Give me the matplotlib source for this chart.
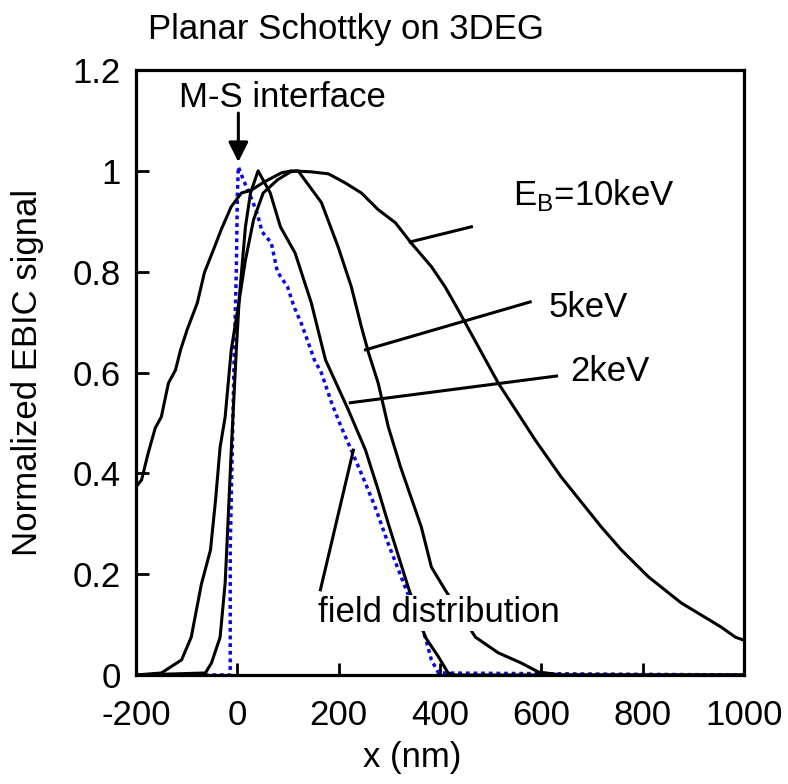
import numpy as np
import matplotlib.pyplot as plt

plt.rcParams['font.family'] = ['Liberation Sans', 'DejaVu Sans']
plt.rcParams['axes.unicode_minus'] = False

# EBIC profiles (x in nm, normalized signal)
x10 = [-200, -189, -176, -162, -150, -136, -122, -112, -99, -79, -65, -45, -32, -12, 8,
       28, 53, 87, 107, 146, 180, 213, 245, 278, 312, 343, 383, 410, 436, 515, 588, 639,
       718, 758, 811, 876, 955, 983, 1000]
y10 = [0.373, 0.387, 0.44, 0.49, 0.512, 0.579, 0.605, 0.645, 0.685, 0.738, 0.798, 0.849,
       0.883, 0.929, 0.956, 0.962, 0.978, 0.996, 1.0, 0.998, 0.994, 0.976, 0.956, 0.923,
       0.897, 0.857, 0.81, 0.77, 0.724, 0.579, 0.466, 0.393, 0.294, 0.248, 0.195, 0.143,
       0.095, 0.075, 0.069]

x5 = [-200, -150, -110, -91, -71, -53, -43, -34, -24, -18, -12, 6, 16, 32, 51, 79, 105,
      120, 166, 199, 225, 245, 259, 278, 298, 322, 363, 383, 410, 470, 515, 560, 594, 640,
      1000]
y5 = [0.0, 0.004, 0.03, 0.075, 0.18, 0.248, 0.347, 0.452, 0.512, 0.579, 0.645, 0.758,
      0.823, 0.903, 0.956, 0.982, 0.998, 1.0, 0.937, 0.849, 0.77, 0.69, 0.639, 0.579,
      0.492, 0.413, 0.294, 0.214, 0.169, 0.075, 0.044, 0.024, 0.006, 0.0, 0.0]

x2 = [-200, -63, -51, -34, -24, -18, -12, -2, 4, 16, 26, 41, 65, 85, 114, 146, 174, 219,
      253, 278, 298, 337, 371, 397, 416, 430, 1000]
y2 = [0.0, 0.004, 0.024, 0.075, 0.183, 0.313, 0.446, 0.645, 0.75, 0.889, 0.956, 1.0,
      0.956, 0.889, 0.837, 0.738, 0.625, 0.526, 0.446, 0.367, 0.30, 0.175, 0.075, 0.036,
      0.004, 0.0, 0.0]

# calculated field distribution
xf = [-200, -14, -14, -6, -2, 0, 2, 12, 30, 39, 49, 67, 79, 99, 112, 126, 138, 152, 166,
      186, 205, 225, 253, 272, 298, 331, 371, 383, 397, 1000]
yf = [0.0, 0.0, 0.25, 0.645, 0.8, 0.95, 1.008, 0.982, 0.94, 0.916, 0.879, 0.857, 0.80,
      0.77, 0.73, 0.698, 0.665, 0.625, 0.599, 0.54, 0.492, 0.446, 0.38, 0.333, 0.26,
      0.175, 0.075, 0.03, 0.004, 0.0]

fs = 25
lw = 2.2
fig = plt.figure(figsize=(7.88, 7.84), dpi=100)
ax = fig.add_axes([136/788, 1 - 675/784, 608/788, 605/784])

ax.plot(xf, yf, color='#0a0ae6', lw=2.5, ls=(0, (1.1, 1.1)))
ax.plot(x2, y2, color='black', lw=lw)
ax.plot(x5, y5, color='black', lw=lw)
ax.plot(x10, y10, color='black', lw=lw)

ax.set_xlim(-200, 1000)
ax.set_ylim(0, 1.2)
ax.set_xticks([-200, 0, 200, 400, 600, 800, 1000])
ax.set_yticks([0, 0.2, 0.4, 0.6, 0.8, 1, 1.2])
ax.set_yticklabels(['0', '0.2', '0.4', '0.6', '0.8', '1', '1.2'])
ax.tick_params(direction='in', length=9, width=2.0, labelsize=fs)
ax.tick_params(axis='x', pad=17)
ax.tick_params(axis='y', pad=11)
for s in ax.spines.values():
    s.set_linewidth(2.3)

# labels and leader lines
ax.annotate('', xy=(2, 1.012), xytext=(2, 1.12),
            arrowprops=dict(arrowstyle='-|>', color='black', lw=lw, mutation_scale=30))
ax.text(89, 1.145, 'M-S interface', fontsize=fs, ha='center', va='center')

ax.plot([462, 341], [0.889, 0.859], color='black', lw=lw)
ax.text(545, 0.952, r'E$_\mathregular{B}$=10keV', fontsize=fs, ha='left', va='center')

ax.plot([578, 253], [0.740, 0.645], color='black', lw=lw)
ax.text(614, 0.728, '5keV', fontsize=fs, ha='left', va='center')

ax.plot([630, 223], [0.593, 0.54], color='black', lw=lw)
ax.text(657, 0.601, '2keV', fontsize=fs, ha='left', va='center')

ax.plot([164, 229], [0.169, 0.446], color='black', lw=lw)
ax.text(397, 0.123, 'field distribution', fontsize=fs, ha='center', va='center',
        bbox=dict(facecolor='white', edgecolor='none', pad=1))

fig.text(148/788, 1 - 30/784, 'Planar Schottky on 3DEG', fontsize=fs, ha='left', va='center')
fig.text(412/788, 1 - 757/784, 'x (nm)', fontsize=fs, ha='center', va='center')
fig.text(28/788, 1 - 372/784, 'Normalized EBIC signal', fontsize=fs, ha='center',
         va='center', rotation=90)

fig.savefig('out.png', dpi=100)
